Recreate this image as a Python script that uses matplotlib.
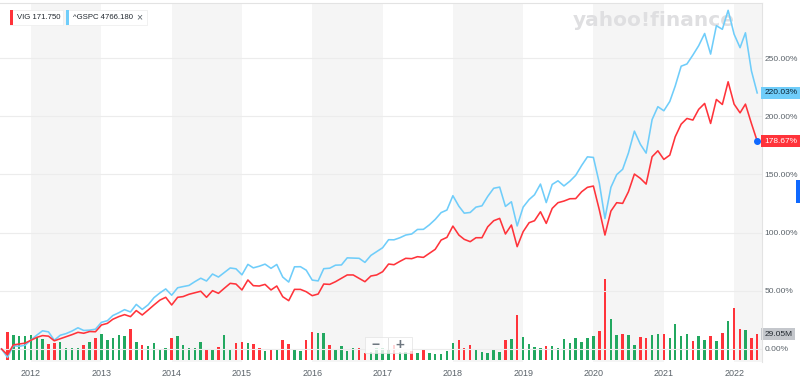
"""VIG vs ^GSPC percent change, monthly, Yahoo Finance style."""

import matplotlib
matplotlib.use("Agg")
import matplotlib.pyplot as plt
import matplotlib.transforms as mtransforms
from matplotlib.patches import Rectangle
import pandas as pd

plt.rcParams["font.family"] = ["Liberation Sans", "DejaVu Sans"]

# Monthly points, Aug 2011 .. May 2022 (percent change since first point)
months = pd.date_range("2011-08-01", "2022-05-01", freq="MS")

vig_pct = [
    0, -5, 3.5, 4.3, 5.0, 7.5, 10.0, 11.5, 11.0, 7.0,
    8.8, 10.6, 12.3, 14.3, 13.5, 15.0, 14.8, 20.6, 22.0, 25.5,
    27.8, 29.5, 27.8, 33.0, 29.2, 33.5, 37.8, 42.0, 44.4, 37.8,
    44.4, 45.0, 47.0, 48.3, 49.6, 44.4, 50.1, 47.8, 52.1, 56.4,
    55.8, 50.7, 59.3, 54.4, 54.1, 55.5, 50.7, 54.1, 44.9, 41.5,
    51.2, 51.2, 49.2, 45.8, 47.2, 55.8, 55.5, 57.8, 60.7, 63.6,
    63.6, 60.7, 57.8, 62.7, 63.6, 66.4, 73.0, 72.4, 75.3, 77.9,
    77.6, 79.3, 78.7, 82.2, 85.6, 93.6, 95.9, 105.6, 97.9, 94.2,
    92.2, 95.6, 95.6, 105.0, 110.2, 112.2, 98.8, 106.5, 87.9, 100.8,
    108.5, 110.2, 117.9, 107.9, 120.8, 125.7, 127.1, 129.1, 129.2, 135.1,
    138.9, 140.0, 119.4, 97.9, 118.5, 125.7, 125.1, 135.1, 150.3, 146.6,
    141.7, 165.2, 170.3, 162.9, 166.6, 182.3, 193.2, 198.1, 196.7, 205.9,
    211.0, 193.8, 214.4, 210.1, 229.6, 210.4, 202.9, 210.4, 193.8, 178.67,
]

gspc_pct = [
    0, -7.2, 2.8, 2.3, 3.2, 7.7, 12.0, 15.6, 14.7, 7.5,
    11.8, 13.2, 15.4, 18.2, 15.9, 16.2, 17.0, 22.9, 24.3, 28.7,
    31.1, 33.8, 31.8, 38.3, 34.0, 38.0, 44.1, 48.2, 51.6, 46.2,
    52.6, 53.6, 54.6, 57.8, 60.8, 58.4, 64.4, 61.8, 65.6, 69.6,
    68.9, 63.7, 72.7, 69.7, 71.1, 72.9, 69.3, 72.6, 61.8, 57.5,
    70.6, 70.7, 67.7, 59.2, 58.5, 69.0, 69.4, 72.0, 72.2, 78.3,
    78.1, 77.9, 74.4, 80.4, 83.7, 87.0, 93.9, 93.8, 95.6, 97.9,
    98.8, 102.7, 102.8, 106.7, 111.3, 117.2, 119.4, 131.7, 122.7, 116.7,
    117.3, 121.9, 123.0, 131.1, 138.1, 139.1, 122.5, 126.5, 105.7, 121.9,
    128.4, 132.5, 141.7, 125.8, 141.4, 144.5, 140.1, 144.2, 149.2, 157.7,
    165.1, 164.6, 142.4, 112.1, 138.9, 149.8, 154.4, 168.4, 187.2, 175.9,
    168.3, 197.1, 208.2, 204.7, 212.7, 225.9, 243.0, 244.9, 252.6, 260.6,
    271.1, 253.4, 277.8, 274.7, 291.0, 270.5, 258.9, 271.7, 239.0, 220.03,
]

# VIG monthly volume in millions, Sep 2011 .. May 2022
vig_volume = [
    31.3, 27.9, 27.2, 27.2, 27.9, 26.0, 23.5, 17.9, 18.7, 19.8,
    13.7, 13.1, 13.7, 16.8, 19.8, 24.2, 29.1, 22.3, 24.6, 27.9,
    26.8, 34.6, 19.8, 16.8, 15.6, 18.7, 12.3, 13.1, 24.2, 27.2,
    16.8, 13.7, 13.7, 20.4, 11.2, 12.0, 14.2, 27.9, 11.2, 19.3,
    19.8, 19.3, 17.5, 13.7, 10.1, 12.0, 12.0, 22.3, 17.5, 12.0,
    10.1, 22.3, 30.9, 29.8, 30.5, 16.8, 11.2, 15.6, 10.1, 13.7,
    13.7, 7.5, 9.3, 13.1, 13.1, 11.2, 16.8, 9.3, 9.3, 10.4,
    7.5, 11.2, 8.2, 6.7, 6.7, 10.1, 19.3, 22.3, 13.1, 16.8,
    11.2, 9.3, 7.5, 11.2, 8.6, 22.3, 23.5, 50.3, 26.0, 17.9,
    14.9, 13.1, 15.6, 15.6, 13.1, 23.1, 18.7, 24.2, 20.4, 24.9,
    27.2, 32.7, 90.2, 45.5, 27.9, 29.1, 27.9, 16.8, 25.4, 24.9,
    27.9, 29.1, 28.7, 24.2, 40.2, 26.8, 28.7, 21.6, 26.8, 22.3,
    27.2, 21.2, 29.8, 43.9, 57.8, 34.3, 33.5, 24.2, 29.05,
]

years = list(range(2012, 2023))
pct_ticks = [0, 50, 100, 150, 200, 250]
legend_items = [("VIG", "171.750"), ("^GSPC", "4766.180")]

RED = "#ff333a"
BLUE = "#6fcdfa"
GREEN = "#22a860"
GRAY_TEXT = "#5b636a"

W, H = 800, 383
fig = plt.figure(figsize=(W / 100, H / 100), dpi=100)


def px_rect(x0, y0, x1, y1, **kw):
    """Rectangle given in pixel coords (origin top-left)."""
    return Rectangle((x0 / W, 1 - y1 / H), (x1 - x0) / W, (y1 - y0) / H,
                     transform=fig.transFigure, **kw)


rect = [0, 1 - 362 / H, 762 / W, 359 / H]
ax_vol = fig.add_axes(rect)
ax = fig.add_axes(rect)
ax.patch.set_alpha(0)

x_lo, x_hi = pd.Timestamp("2011-07-24"), pd.Timestamp("2022-05-26")
for a in (ax_vol, ax):
    a.set_xlim(x_lo, x_hi)

# alternating year bands
for y in years[::2]:
    ax_vol.axvspan(pd.Timestamp(f"{y}-01-01"), pd.Timestamp(f"{y + 1}-01-01"),
                   color="#f5f5f5", lw=0, zorder=0)

# watermark
ax_vol.text(573 / W, 1 - 26 / H, "yahoo!finance", transform=fig.transFigure,
            fontsize=14.5, fontweight="heavy", family="DejaVu Sans",
            color="#dfdfe1", va="baseline", zorder=0.5)

# volume bars, coloured by VIG move
vol_colors = [GREEN if vig_pct[i] >= vig_pct[i - 1] else RED
              for i in range(1, len(vig_pct))]
ax_vol.bar(months[1:], vig_volume, width=13, color=vol_colors, zorder=1)
ax_vol.set_ylim(-2.2, 398.9)
ax_vol.set_xticks([])
ax_vol.set_yticks([])
for s in ax_vol.spines.values():
    s.set_visible(False)

# percent lines
ax.plot(months, gspc_pct, color=BLUE, lw=1.15, zorder=3)
ax.plot(months, vig_pct, color=RED, lw=1.15, zorder=4)
ax.plot(months[-1], vig_pct[-1], "o", color="#0f69ff", ms=4, zorder=5)
ax.set_ylim(-11.2, 297.3)

ax.yaxis.tick_right()
ax.set_yticks(pct_ticks)
ax.set_yticklabels([f"{v:.2f}%" for v in pct_ticks])
ax.tick_params(axis="y", length=0, pad=2, labelsize=6.0, labelcolor=GRAY_TEXT)
ax.set_xticks([pd.Timestamp(f"{y}-01-01") for y in years])
ax.set_xticklabels([str(y) for y in years])
ax.tick_params(axis="x", length=0, pad=5, labelsize=6.5, labelcolor=GRAY_TEXT)
ax.grid(axis="y", color="#ececec", lw=0.8)
ax.set_axisbelow(True)
for side in ("left", "bottom"):
    ax.spines[side].set_visible(False)
for side in ("top", "right"):
    ax.spines[side].set_color("#e3e3e3")
    ax.spines[side].set_linewidth(0.8)

# value tags on the right axis
tag_font = 6.0
trans = mtransforms.blended_transform_factory(ax.transAxes, ax.transData)
ax.text(1.003, gspc_pct[-1], f"{gspc_pct[-1]:.2f}%", transform=trans,
        ha="left", va="center", fontsize=tag_font, color="#0c2333",
        bbox=dict(boxstyle="square,pad=0.35", fc=BLUE, ec="none"))
ax.text(1.003, vig_pct[-1], f"{vig_pct[-1]:.2f}%", transform=trans,
        ha="left", va="center", fontsize=tag_font, color="white",
        bbox=dict(boxstyle="square,pad=0.35", fc=RED, ec="none"))
trans_v = mtransforms.blended_transform_factory(ax_vol.transAxes, ax_vol.transData)
ax_vol.text(1.003, vig_volume[-1], f"{vig_volume[-1]:.2f}M", transform=trans_v,
            ha="left", va="center", fontsize=tag_font, color="#232a31",
            bbox=dict(boxstyle="square,pad=0.35", fc="#c4c7cc", ec="none"))

# blue tab on the right edge
fig.add_artist(px_rect(796, 180, 800, 203, color="#0f69ff", lw=0))

# zoom control
fig.add_artist(px_rect(365, 337, 412, 353, fc="white", ec="#e2e2e2", lw=0.6,
                       alpha=0.8, zorder=10))
fig.add_artist(px_rect(388, 338, 388.8, 352, color="#e2e2e2", lw=0, zorder=11))
fig.text(376 / W, 1 - 345 / H, "\u2212", ha="center", va="center",
         fontsize=10, fontweight="bold", color="#6e7780", zorder=12)
fig.text(400 / W, 1 - 345 / H, "+", ha="center", va="center",
         fontsize=11, fontweight="bold", color="#6e7780", zorder=12)

# legend chips
chips = [(10, 63, RED), (66, 147, BLUE)]
for (x0, x1, col), (sym, val) in zip(chips, legend_items):
    fig.add_artist(px_rect(x0, 10, x1, 25, fc="white", ec="#ececec", lw=0.5, zorder=10))
    fig.add_artist(px_rect(x0, 10, x0 + 3, 25, color=col, lw=0, zorder=11))
    fig.text((x0 + 7) / W, 1 - 17.5 / H, f"{sym} {val}", ha="left", va="center",
             fontsize=5.6, color="#232a31", zorder=12)
fig.text(139 / W, 1 - 17.5 / H, "\u00d7", ha="center", va="center",
         fontsize=7.5, color=GRAY_TEXT, zorder=12)

fig.savefig("out.png", dpi=100)
